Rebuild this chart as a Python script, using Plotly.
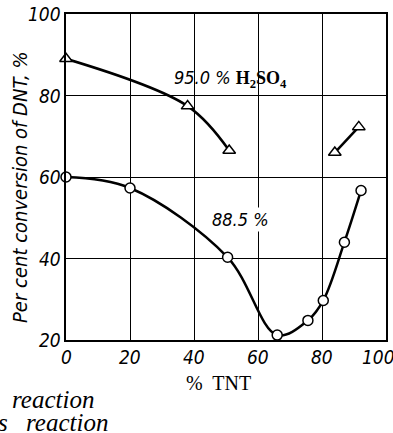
import plotly.graph_objects as go

# % TNT in the mixture vs per cent conversion of DNT
tnt_95 = [0, 38, 51]
conv_95 = [89, 77.4, 66.5]
tnt_95_end = [84, 91.5]
conv_95_end = [66, 72.3]

tnt_885 = [0, 20, 50.5, 66, 75.6, 80.4, 87, 92.2]
conv_885 = [60, 57.3, 40.3, 21.2, 24.8, 29.7, 44, 56.7]

x_ticks = [0, 20, 40, 60, 80, 100]
x_tick_text = ["0", "20", "40", "60", "80", "100\u00a0\u00a0\u00a0"]
y_ticks = [20, 40, 60, 80, 100]

NARROW = "DejaVu Sans Condensed, Liberation Sans Narrow, Roboto Condensed, DejaVu Sans, sans-serif"
SERIF = "Liberation Serif, Times New Roman, serif"

fig = go.Figure()

tri = dict(symbol="triangle-up", size=11, color="white", line=dict(color="black", width=1.5))
circ = dict(symbol="circle", size=10, color="white", line=dict(color="black", width=1.5))

fig.add_trace(go.Scatter(x=tnt_95, y=conv_95, mode="lines+markers",
                         line=dict(color="black", width=2.5, shape="spline", smoothing=1.0),
                         marker=tri, showlegend=False, cliponaxis=False))
fig.add_trace(go.Scatter(x=tnt_95_end, y=conv_95_end, mode="lines+markers",
                         line=dict(color="black", width=2.5),
                         marker=tri, showlegend=False, cliponaxis=False))
fig.add_trace(go.Scatter(x=tnt_885, y=conv_885, mode="lines+markers",
                         line=dict(color="black", width=2.5, shape="spline", smoothing=1.0),
                         marker=circ, showlegend=False, cliponaxis=False))

fig.add_annotation(x=51.4, y=84, xref="x", yref="y", showarrow=False,
                   text="<i>95.0 %</i> <span style='font-family:Liberation Serif'><b>H<sub>2</sub>SO<sub>4</sub></b></span>",
                   font=dict(family=NARROW, size=18, color="black"))
fig.add_annotation(x=54.6, y=49.6, xref="x", yref="y", showarrow=False,
                   text="<i>88.5 %</i>", bgcolor="white", borderpad=1,
                   font=dict(family=NARROW, size=18, color="black"))

# italic tick labels, placed along the axes from the tick arrays
tick_font = dict(family=NARROW, size=19, color="black")
for v, t in zip(x_ticks, x_tick_text):
    fig.add_annotation(x=v, y=-0.052, xref="x", yref="paper", showarrow=False,
                       text=f"<i>{t}</i>", xanchor="center", yanchor="middle",
                       font=tick_font)
for v in y_ticks:
    fig.add_annotation(x=-0.009, y=v, xref="paper", yref="y", showarrow=False,
                       text=f"<i>{v}</i>", xanchor="right", yanchor="middle",
                       font=tick_font)

# texts outside the plot (paper coords; plot area spans 320 x 326 px)
fig.add_annotation(x=-0.144, y=0.469, xref="paper", yref="paper", showarrow=False,
                   text="<i>Per cent conversion of DNT, %</i>", textangle=-90,
                   xanchor="center", yanchor="middle",
                   font=dict(family=NARROW, size=20, color="black"))
fig.add_annotation(x=0.478, y=-0.132, xref="paper", yref="paper", showarrow=False,
                   text="%  TNT", xanchor="center", yanchor="middle",
                   font=dict(family=SERIF, size=20, color="black"))
fig.add_annotation(x=-0.176, y=-0.184, xref="paper", yref="paper", showarrow=False,
                   text="<i>reaction</i>", xanchor="left", yanchor="middle",
                   font=dict(family=SERIF, size=25, color="black"))
fig.add_annotation(x=-0.218, y=-0.252, xref="paper", yref="paper", showarrow=False,
                   text="<i>s</i>", xanchor="left", yanchor="middle",
                   font=dict(family=SERIF, size=25, color="black"))
fig.add_annotation(x=-0.132, y=-0.252, xref="paper", yref="paper", showarrow=False,
                   text="<i>reaction</i>", xanchor="left", yanchor="middle",
                   font=dict(family=SERIF, size=25, color="black"))

fig.update_layout(
    width=393, height=433,
    margin=dict(l=66, r=7, t=14, b=93),
    paper_bgcolor="white", plot_bgcolor="white",
    font=dict(family=NARROW, color="black"),
)
fig.update_xaxes(range=[0, 100], tickvals=x_ticks, showticklabels=False, ticks="",
                 showgrid=True, gridcolor="black", gridwidth=1, showline=True,
                 linecolor="black", linewidth=2, mirror=True, zeroline=False,
                 automargin=False)
fig.update_yaxes(range=[20, 100], tickvals=y_ticks, showticklabels=False, ticks="",
                 showgrid=True, gridcolor="black", gridwidth=1, showline=True,
                 linecolor="black", linewidth=2, mirror=True, zeroline=False,
                 automargin=False)

# drop the page's default 8px body margin so the figure sits at the window corner
fig.write_html("out.html", config={"displayModeBar": False},
               post_script="document.body.style.margin='0';")
